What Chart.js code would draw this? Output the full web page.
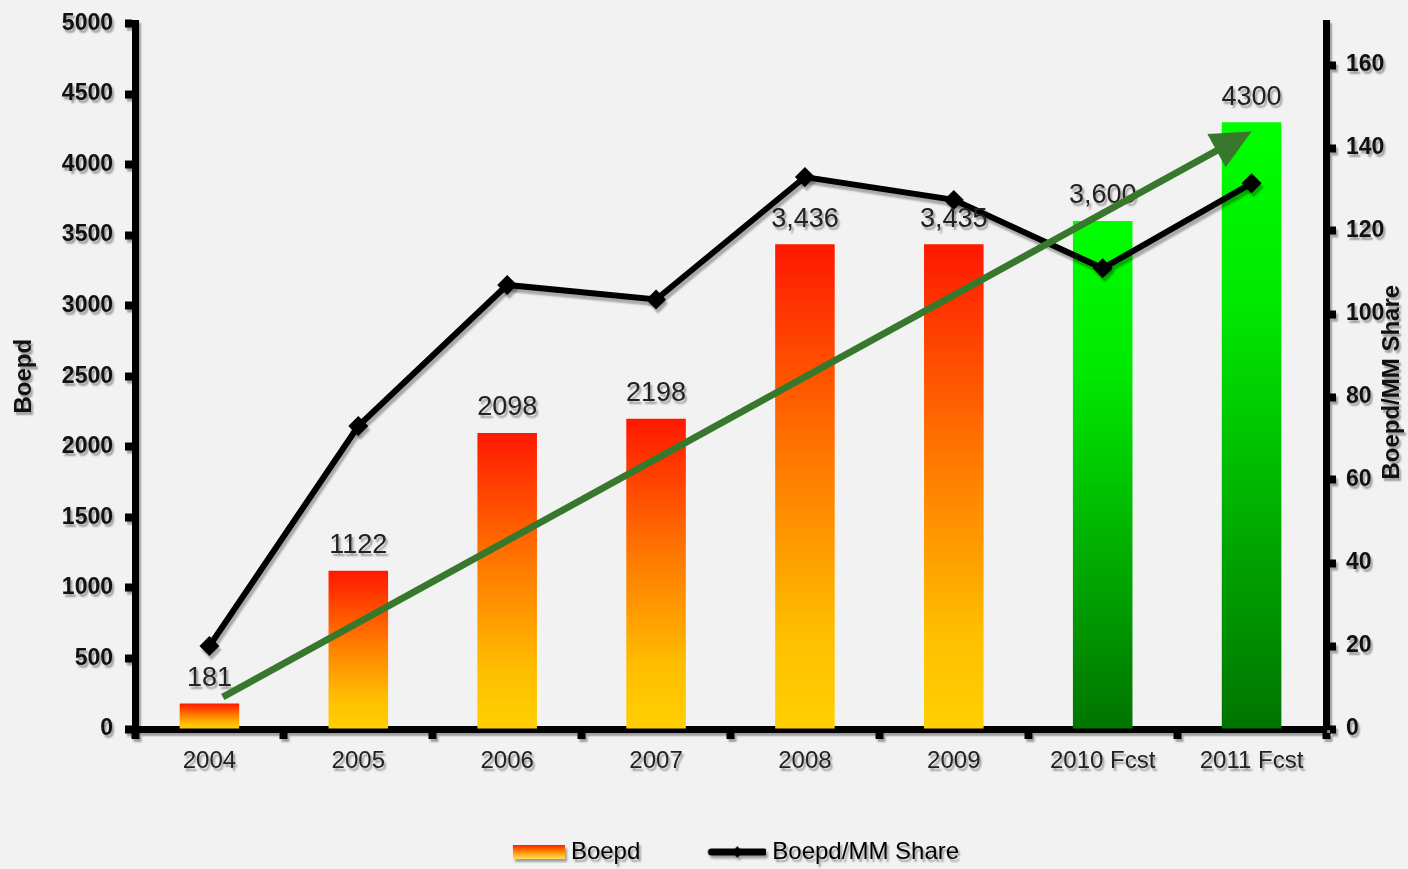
<!DOCTYPE html>
<html>
<head>
<meta charset="utf-8">
<script src="https://cdn.jsdelivr.net/npm/chart.js@4/dist/chart.umd.min.js"></script>
<style>
  html, body { margin: 0; padding: 0; background: #f2f2f2; }
  #wrap { width: 1408px; height: 869px; }
</style>
</head>
<body>
<div id="wrap"><canvas id="chart" width="1408" height="869"></canvas></div>
<script>
// data
const categories = ['2004', '2005', '2006', '2007', '2008', '2009', '2010 Fcst', '2011 Fcst'];
const boepd = [181, 1122, 2098, 2198, 3436, 3435, 3600, 4300];
const boepdLabels = ['181', '1122', '2098', '2198', '3,436', '3,435', '3,600', '4300'];
const boepdPerShare = [20, 73, 107, 103.5, 133, 127.5, 111, 131.5];
const isForecast = [false, false, false, false, false, false, true, true];
// trend arrow: [category index, Boepd/MM Share value]
const trendFrom = [0.09, 7.7];
const trendTo = [7.0, 144];
const rightTitle = 'Boepd/MM Share';

const FONT = "'Liberation Sans', Arial, sans-serif";
const SHADOW = 'rgba(0,0,0,0.35)';

function barFill(ctx) {
  const chart = ctx.chart;
  const y = chart.scales.y;
  if (!y || ctx.type !== 'data') return '#ff8000';
  const top = y.getPixelForValue(ctx.raw);
  const bot = y.getPixelForValue(0);
  if (!isFinite(top) || !isFinite(bot) || top === bot) return '#ff8000';
  const g = chart.ctx.createLinearGradient(0, top, 0, bot);
  if (isForecast[ctx.dataIndex]) {
    g.addColorStop(0, '#00ff00');
    g.addColorStop(0.3, '#00e800');
    g.addColorStop(1, '#007400');
  } else {
    g.addColorStop(0, '#ff1800');
    g.addColorStop(0.45, '#ff7a00');
    g.addColorStop(0.8, '#ffbe00');
    g.addColorStop(1, '#ffd000');
  }
  return g;
}

// legend swatches (drawn as point-style images)
function barSwatch() {
  const c = document.createElement('canvas');
  c.width = 122; c.height = 18;
  const x = c.getContext('2d');
  const g = x.createLinearGradient(0, 2, 0, 16);
  g.addColorStop(0, '#ff2000');
  g.addColorStop(0.5, '#ff9000');
  g.addColorStop(1, '#ffe060');
  x.fillStyle = g;
  x.fillRect(122 - 52, 2, 52, 14);
  return c;
}
function lineSwatch() {
  const c = document.createElement('canvas');
  c.width = 122; c.height = 18;
  const x = c.getContext('2d');
  x.strokeStyle = '#000';
  x.lineWidth = 7;
  x.lineCap = 'round';
  x.beginPath(); x.moveTo(122 - 55, 9); x.lineTo(120, 9); x.stroke();
  x.fillStyle = '#000';
  x.beginPath(); x.moveTo(93, 3); x.lineTo(98, 9); x.lineTo(93, 15); x.lineTo(88, 9); x.closePath(); x.fill();
  return c;
}
const swatches = [barSwatch(), lineSwatch()];

const decorPlugin = {
  id: 'decor',
  beforeDraw(chart) {
    const c = chart.ctx;
    c.shadowColor = SHADOW; c.shadowOffsetX = 2; c.shadowOffsetY = 3; c.shadowBlur = 2;
  },
  beforeDatasetsDraw(chart) {
    chart.ctx.shadowColor = 'rgba(0,0,0,0)';
  },
  beforeDatasetDraw(chart, args) {
    if (args.index === 1) {
      const c = chart.ctx;
      c.shadowColor = 'rgba(0,0,0,0.3)'; c.shadowOffsetX = 2; c.shadowOffsetY = 4; c.shadowBlur = 2;
    }
  },
  afterDatasetDraw(chart) {
    chart.ctx.shadowColor = 'rgba(0,0,0,0)';
  },
  afterDatasetsDraw(chart) {
    const c = chart.ctx;
    const meta = chart.getDatasetMeta(0);
    // value labels above bars
    c.save();
    c.shadowColor = SHADOW; c.shadowOffsetX = 2; c.shadowOffsetY = 3; c.shadowBlur = 2;
    c.font = '27px ' + FONT;
    c.fillStyle = '#222';
    c.textAlign = 'center';
    c.textBaseline = 'middle';
    meta.data.forEach((bar, i) => {
      c.fillText(boepdLabels[i], bar.x, bar.y - 25);
    });
    // right axis title, reading bottom to top
    const r = chart.scales.y1;
    c.translate(r.right - 16, (chart.chartArea.top + chart.chartArea.bottom) / 2 + 6);
    c.rotate(-Math.PI / 2);
    c.font = 'bold 24px ' + FONT;
    c.fillStyle = '#111';
    c.fillText(rightTitle, 0, 0);
    c.restore();
    // green trend arrow
    const xs = chart.scales.x, ys = chart.scales.y1;
    const x0 = xs.getPixelForValue(trendFrom[0]), y0 = ys.getPixelForValue(trendFrom[1]);
    const x1 = xs.getPixelForValue(trendTo[0]), y1 = ys.getPixelForValue(trendTo[1]);
    const a = Math.atan2(y1 - y0, x1 - x0);
    const head = 40, half = 19;
    const bx = x1 - head * Math.cos(a), by = y1 - head * Math.sin(a);
    c.save();
    c.strokeStyle = '#38782c';
    c.fillStyle = '#38782c';
    c.lineWidth = 7;
    c.beginPath(); c.moveTo(x0, y0); c.lineTo(bx + 2 * Math.cos(a), by + 2 * Math.sin(a)); c.stroke();
    c.beginPath();
    c.moveTo(x1, y1);
    c.lineTo(bx - half * Math.sin(a), by + half * Math.cos(a));
    c.lineTo(bx + half * Math.sin(a), by - half * Math.cos(a));
    c.closePath(); c.fill();
    c.restore();
  }
};

const axisGrid = {
  drawOnChartArea: false,
  drawTicks: true,
  tickLength: 10,
  tickWidth: 8,
  color: '#000'
};

new Chart(document.getElementById('chart'), {
  type: 'bar',
  data: {
    labels: categories,
    datasets: [{
      label: 'Boepd',
      data: boepd,
      backgroundColor: barFill,
      borderWidth: 0,
      categoryPercentage: 1,
      barPercentage: 0.4,
      yAxisID: 'y',
      order: 1
    }, {
      type: 'line',
      label: 'Boepd/MM Share',
      data: boepdPerShare,
      borderColor: '#000',
      backgroundColor: '#000',
      borderWidth: 6,
      pointStyle: 'rectRot',
      pointRadius: 10,
      pointBackgroundColor: '#000',
      pointBorderWidth: 0,
      tension: 0,
      yAxisID: 'y1',
      order: 0
    }]
  },
  options: {
    responsive: false,
    animation: false,
    layout: { padding: { top: 20, left: 0, right: 0, bottom: -5 } },
    plugins: {
      tooltip: { enabled: false },
      legend: {
        position: 'bottom',
        labels: {
          usePointStyle: true,
          pointStyleWidth: 110,
          padding: 10,
          color: '#111',
          font: { family: FONT, size: 24 },
          generateLabels(chart) {
            return chart.data.datasets.map((ds, i) => ({
              text: ds.label,
              pointStyle: swatches[i],
              datasetIndex: i,
              hidden: false,
              fillStyle: '#000',
              strokeStyle: '#000',
              lineWidth: 0
            }));
          }
        }
      }
    },
    scales: {
      x: {
        grid: axisGrid,
        border: { display: true, color: '#000', width: 7 },
        ticks: { color: '#222', padding: 8, font: { family: FONT, size: 24 }, maxRotation: 0 },
        afterFit(scale) { scale.height = 101; }
      },
      y: {
        position: 'left',
        min: 0, max: 5000,
        grid: axisGrid,
        border: { display: true, color: '#000', width: 7 },
        ticks: {
          stepSize: 500, color: '#111', padding: 12,
          font: { family: FONT, size: 23, weight: 'bold', lineHeight: 1 },
          callback: v => String(v)
        },
        title: { display: true, text: 'Boepd', color: '#111', padding: { top: 10, bottom: 0 }, font: { family: FONT, size: 24, weight: 'bold' } },
        afterFit(scale) { scale.width = 135; }
      },
      y1: {
        position: 'right',
        min: 0, max: 170,
        grid: axisGrid,
        border: { display: true, color: '#000', width: 7 },
        ticks: { stepSize: 20, includeBounds: false, color: '#111', padding: 10, font: { family: FONT, size: 23, weight: 'bold', lineHeight: 1 } },
        afterFit(scale) { scale.width = 82; }
      }
    }
  },
  plugins: [decorPlugin]
});
</script>
</body>
</html>
